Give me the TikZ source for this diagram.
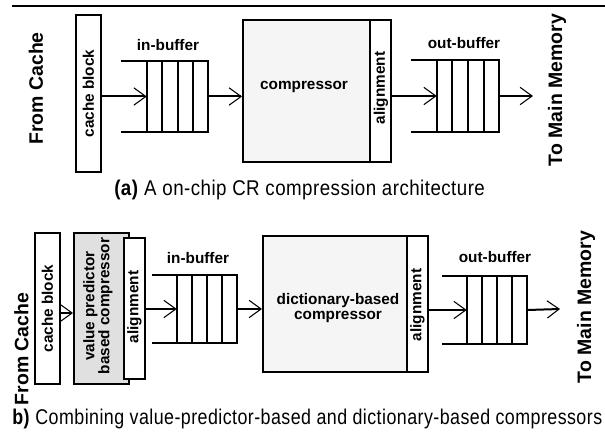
\documentclass[tikz,border=0pt]{standalone}
\usepackage{fontspec}
\setmainfont{Liberation Sans}
\newfontfamily\capfont[FakeStretch=0.8,LetterSpace=2]{Liberation Sans}
\usetikzlibrary{arrows.meta,calc}
\newdimen\pxu \pxu=0.75pt
\newcommand\drawbuf[6]{%
  \node[minimum width=#4\pxu, minimum height=#5\pxu, inner sep=0pt] (#1) at (#2,#3) {};
  \draw[buf] ([xshift=-#6\pxu]#1.north west) -- (#1.north east) -- (#1.south east) -- ([xshift=-#6\pxu]#1.south west);
  \foreach \f in {0,0.25,0.5,0.75} \draw[buf] ($(#1.north west)!\f!(#1.north east)$) -- ($(#1.south west)!\f!(#1.south east)$);
}
\begin{document}
\begin{tikzpicture}[x=0.75pt,y=-0.75pt,
  blk/.style={draw, line width=1.5pt, inner sep=0pt},
  lbl/.style={font=\fontsize{11.5}{11.25}\selectfont\bfseries, inner sep=0pt, align=center},
  big/.style={font=\fontsize{14.6}{15}\selectfont\bfseries, inner sep=0pt, rotate=90},
  arr/.style={line width=1.5pt, -{Straight Barb[length=9pt,width=13pt,line width=0.8pt]}},
  buf/.style={line width=1.5pt},
  capt/.style={font=\capfont\fontsize{16}{18}\selectfont, inner sep=0pt, anchor=base west}]
\useasboundingbox (0,0) rectangle (605,434);
\fill[white] (0,0) rectangle (605,434);
% top rule
\coordinate (rl) at (12,6);
\coordinate (rr) at (605,6);
\draw[line width=1.5pt] (rl) -- (rr);

% ---------- (a) ----------
\node[big] (fc1) at (36,88.5) {From Cache};
\node[blk, minimum width=25\pxu, minimum height=157\pxu] (cb1) at (88.5,93.5) {};
\node[lbl, rotate=90] (cbt1) at (cb1) {cache block};
\drawbuf{ib1}{177.5}{96.5}{61}{71}{26}
\node[lbl] (ibl1) at (168,45) {in-buffer};
\node[blk, fill=black!4, minimum width=127\pxu, minimum height=142\pxu] (comp1) at (306.5,91) {};
\node[lbl] (compt1) at (304,87) {compressor};
\node[blk, fill=white, minimum width=21\pxu, minimum height=142\pxu] (al1) at (380.5,91) {};
\node[lbl, rotate=90] (alt1) at (381,88) {alignment};
\drawbuf{ob1}{468}{96}{62}{72}{26}
\node[lbl] (obl1) at (464,43) {out-buffer};
\coordinate (end1) at (533,96);
\node[big] (tm1) at (557,90) {To Main Memory};
\draw[arr] (cb1.east |- ib1.west) -- (ib1.west);
\draw[arr] (ib1.east) -- (comp1.west |- ib1.east);
\draw[arr] (al1.east |- ob1.west) -- (ob1.west);
\draw[arr] (ob1.east) -- (end1);
\node[capt] (cap1) at (114,196) {\resizebox{278pt}{\height}{\textbf{(a)} A on-chip CR compression architecture}};

% ---------- (b) ----------
\node[big] (fc2) at (21.5,349) {From Cache};
\node[blk, minimum width=25\pxu, minimum height=151\pxu] (cb2) at (47.5,308.5) {};
\node[lbl, rotate=90] (cbt2) at (cb2) {cache block};
\node[blk, fill=black!12, minimum width=55\pxu, minimum height=151\pxu] (vp) at (101.5,308.5) {};
\node[blk, fill=white, minimum width=21\pxu, minimum height=141\pxu] (al2) at (134.5,308.5) {};
\node[lbl, rotate=90] (vpt) at (98,306) {value predictor\\based compressor};
\node[lbl, rotate=90] (alt2) at (134.5,307) {alignment};
\drawbuf{ib2}{207}{309}{60}{68}{25}
\node[lbl] (ibl2) at (198,258) {in-buffer};
\node[blk, fill=black!4, minimum width=144\pxu, minimum height=136\pxu] (dict) at (335,304) {};
\node[lbl] (dictt) at (338,308) {dictionary-based\\compressor};
\node[blk, fill=white, minimum width=21\pxu, minimum height=136\pxu] (al3) at (417.5,304) {};
\node[lbl, rotate=90] (alt3) at (417.5,305) {alignment};
\drawbuf{ob2}{497}{310}{60}{68}{25}
\node[lbl] (obl2) at (495,257) {out-buffer};
\coordinate (end2) at (560,309);
\node[big] (tm2) at (586,307) {To Main Memory};
\draw[arr] ([yshift=-4.5\pxu]cb2.east) -- ([yshift=-4.5\pxu]vp.west);
\draw[arr] (al2.east |- ib2.west) -- (ib2.west);
\draw[arr] (ib2.east) -- (dict.west |- ib2.east);
\draw[arr] (al3.east |- ob2.west) -- (ob2.west);
\draw[arr] (ob2.east) -- (end2);
\node[capt] (cap2) at (12,424) {\resizebox{442.5pt}{\height}{\textbf{b)} Combining value-predictor-based and dictionary-based compressors}};
\end{tikzpicture}
\end{document}
